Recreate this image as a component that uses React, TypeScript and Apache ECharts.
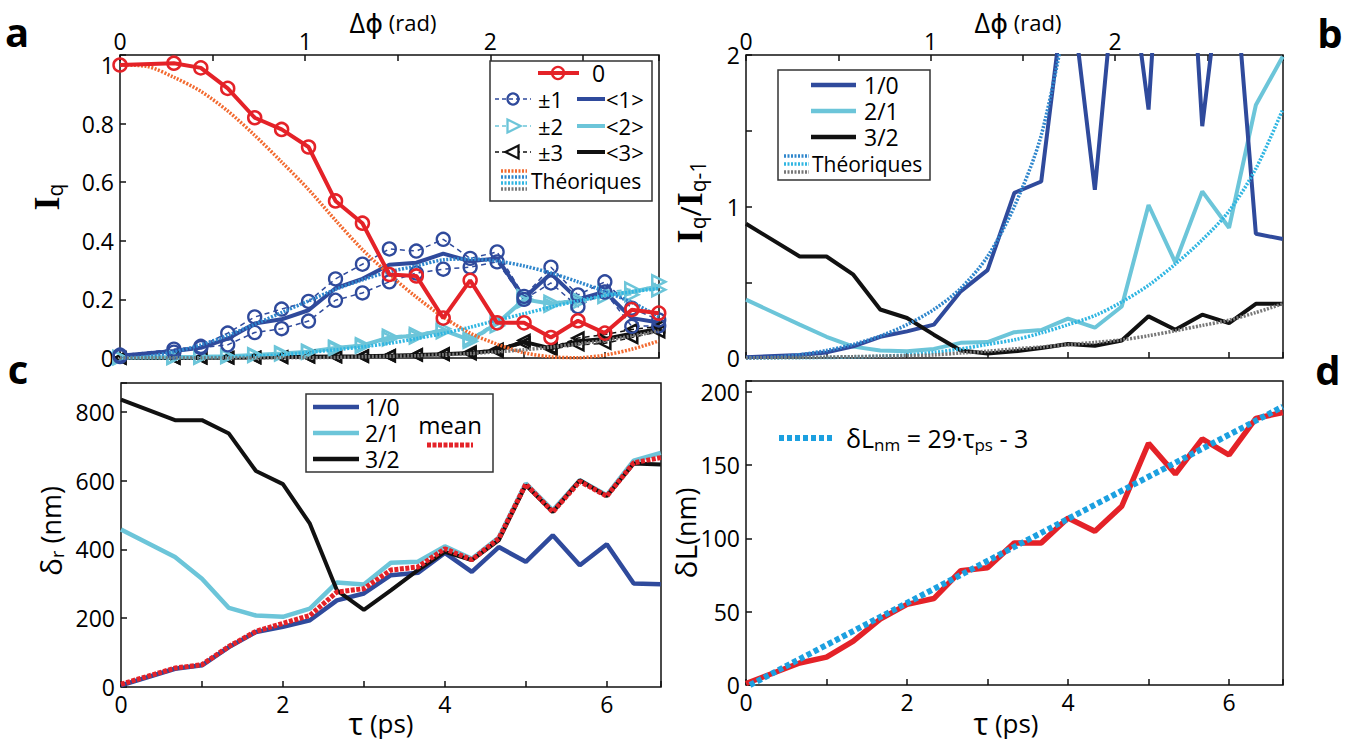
import React, { useEffect, useRef } from 'react';
import * as echarts from 'echarts';

// ---------- sampling (τ in ps) ----------
const tauPs = [0, 0.667, 1, 1.333, 1.667, 2, 2.333, 2.667, 3, 3.333, 3.667, 4, 4.333, 4.667, 5, 5.333, 5.667, 6, 6.333, 6.667];
const tauTheory = [0, 0.333, 0.667, 1, 1.333, 1.667, 2, 2.333, 2.667, 3, 3.333, 3.667, 4, 4.333, 4.667, 5, 5.333, 5.667, 6, 6.333, 6.667];

// ---------- panel a : I_q ----------
const i0 = [1.0, 1.006, 0.99, 0.92, 0.82, 0.78, 0.72, 0.536, 0.46, 0.285, 0.28, 0.136, 0.265, 0.12, 0.12, 0.07, 0.127, 0.085, 0.165, 0.153];
const iPlus1 = [0.01, 0.03, 0.04, 0.085, 0.14, 0.167, 0.193, 0.27, 0.32, 0.372, 0.365, 0.405, 0.34, 0.362, 0.21, 0.31, 0.215, 0.26, 0.17, 0.13];
const iMinus1 = [0.005, 0.02, 0.035, 0.045, 0.087, 0.1, 0.126, 0.197, 0.222, 0.26, 0.29, 0.303, 0.31, 0.328, 0.2, 0.256, 0.175, 0.225, 0.108, 0.11];
const iAvg1 = [0.008, 0.024, 0.035, 0.066, 0.118, 0.132, 0.163, 0.238, 0.27, 0.318, 0.325, 0.356, 0.33, 0.34, 0.205, 0.288, 0.2, 0.226, 0.136, 0.121];
const iPlus2 = [0.002, 0.003, 0.004, 0.006, 0.011, 0.017, 0.023, 0.037, 0.045, 0.074, 0.08, 0.1, 0.057, 0.11, 0.21, 0.18, 0.19, 0.21, 0.216, 0.26];
const iMinus2 = [0.001, 0.002, 0.003, 0.005, 0.009, 0.014, 0.02, 0.032, 0.04, 0.065, 0.072, 0.09, 0.065, 0.125, 0.195, 0.19, 0.2, 0.225, 0.235, 0.233];
const iAvg2 = [0.002, 0.003, 0.004, 0.006, 0.01, 0.015, 0.021, 0.034, 0.043, 0.07, 0.076, 0.095, 0.061, 0.118, 0.2, 0.185, 0.195, 0.215, 0.225, 0.245];
const iPlus3 = [0, 0, 0.001, 0.001, 0.002, 0.003, 0.004, 0.005, 0.006, 0.008, 0.01, 0.012, 0.015, 0.023, 0.05, 0.035, 0.068, 0.08, 0.097, 0.108];
const iMinus3 = [0, 0, 0.001, 0.001, 0.002, 0.003, 0.004, 0.005, 0.007, 0.008, 0.011, 0.014, 0.02, 0.03, 0.06, 0.03, 0.045, 0.05, 0.07, 0.09];
const iAvg3 = [0, 0, 0.001, 0.001, 0.002, 0.003, 0.004, 0.005, 0.006, 0.008, 0.01, 0.013, 0.017, 0.026, 0.055, 0.033, 0.057, 0.065, 0.083, 0.099];
const th0 = [1.0, 0.995, 0.958, 0.91, 0.843, 0.76, 0.669, 0.575, 0.47, 0.37, 0.285, 0.208, 0.14, 0.085, 0.047, 0.018, 0.004, 0.001, 0.01, 0.03, 0.058];
const th1 = [0, 0.005, 0.021, 0.045, 0.077, 0.115, 0.155, 0.195, 0.234, 0.267, 0.294, 0.314, 0.335, 0.338, 0.331, 0.314, 0.29, 0.26, 0.227, 0.19, 0.141];
const th2 = [0, 0, 0.0003, 0.001, 0.003, 0.006, 0.011, 0.019, 0.028, 0.038, 0.05, 0.066, 0.084, 0.105, 0.129, 0.151, 0.174, 0.195, 0.213, 0.226, 0.237];
const th3 = [0, 0, 0, 0, 0, 0, 0.001, 0.001, 0.002, 0.004, 0.006, 0.008, 0.011, 0.015, 0.021, 0.028, 0.037, 0.048, 0.06, 0.075, 0.092];

// ---------- panel b : I_q / I_q-1 ----------
const r10 = [0.005, 0.02, 0.037, 0.077, 0.14, 0.176, 0.22, 0.44, 0.58, 1.09, 1.165, 2.6, 1.11, 3.0, 1.64, 4.4, 1.53, 3.0, 0.82, 0.785];
const r21 = [0.385, 0.22, 0.14, 0.075, 0.05, 0.045, 0.06, 0.1, 0.105, 0.17, 0.185, 0.26, 0.2, 0.34, 1.01, 0.63, 1.1, 0.86, 1.67, 1.99];
const r32 = [0.886, 0.67, 0.67, 0.55, 0.32, 0.264, 0.154, 0.05, 0.03, 0.044, 0.066, 0.092, 0.081, 0.116, 0.275, 0.187, 0.286, 0.23, 0.358, 0.358];
const thR10 = [0, 0.005, 0.022, 0.05, 0.09, 0.145, 0.22, 0.32, 0.46, 0.67, 1.0, 1.47, 2.3];
const thR21 = [0, 0.0005, 0.002, 0.003, 0.007, 0.012, 0.02, 0.037, 0.06, 0.09, 0.12, 0.165, 0.22, 0.28, 0.37, 0.48, 0.62, 0.78, 0.97, 1.25, 1.64];
const thR32 = [0, 0.002, 0.004, 0.006, 0.009, 0.012, 0.015, 0.02, 0.033, 0.045, 0.06, 0.073, 0.088, 0.103, 0.12, 0.147, 0.18, 0.215, 0.25, 0.3, 0.358];

// ---------- panel c : δr (nm) ----------
const c10 = [5, 53, 63, 116, 160, 175, 194, 252, 272, 325, 332, 390, 335, 407, 364, 441, 354, 415, 301, 299];
const c21 = [458, 378, 315, 230, 208, 204, 228, 304, 298, 361, 364, 409, 373, 435, 592, 514, 601, 558, 658, 681];
const c32 = [836, 776, 776, 737, 628, 590, 475, 281, 224, 281, 340, 393, 369, 427, 587, 509, 601, 555, 650, 647];
const cMean = [8, 55, 65, 118, 162, 185, 208, 276, 286, 340, 349, 402, 370, 432, 590, 509, 598, 555, 652, 667];

// ---------- panel d : δL (nm) ----------
const dL = [1, 15, 19, 30, 45, 55, 59, 78, 80, 97, 97, 114, 105, 122, 165, 144, 168, 157, 182, 186];
const fitTau = [0.05, 6.667];
const fitDL = [0, 190];

// ---------- tick labels ----------
const yTicksA = [0, 0.2, 0.4, 0.6, 0.8, 1];
const yTicksB = [0, 1, 2];
const yTicksC = [0, 200, 400, 600, 800];
const yTicksD = [0, 50, 100, 150, 200];
const tauTickLabels = [0, 2, 4, 6];
const phiTickLabels = [0, 1, 2];

const FONT = '"Open Sans", "DejaVu Sans", sans-serif';
const RED = '#e42228';
const DBLUE = '#2f4a9c';
const LBLUE = '#6cc5d9';
const BLACK = '#111';
const TH_ORANGE = '#f26a30';
const TH_BLUE = '#2f86cc';
const TH_LBLUE = '#30b6e2';
const TH_GRAY = '#777';
const FIT_BLUE = '#1ca0e0';

const pairs = (xs: number[], ys: number[]) => ys.map((y, i) => [xs[i], y]);
const labelFrom = (ticks: number[]) => (v: number) => {
  const t = ticks.find((k) => Math.abs(k - v) < 1e-6);
  return t === undefined ? '' : String(t);
};

const tickStyle = { inside: true, length: 6, lineStyle: { color: BLACK, width: 1.5 } };
const labelStyle = { fontSize: 23, fontFamily: FONT, color: '#000' };

const tauAxis = (gridIndex: number, show: boolean) => ({
  type: 'value', gridIndex, position: 'bottom', min: 0, max: 6.67, interval: 1,
  axisLine: { show: false }, splitLine: { show: false }, axisTick: tickStyle,
  axisLabel: { show, ...labelStyle, margin: 5, formatter: labelFrom(tauTickLabels) },
});
const phiAxis = (gridIndex: number) => ({
  type: 'value', gridIndex, position: 'top', min: 0, max: 2.91, interval: 0.5,
  axisLine: { show: false }, splitLine: { show: false }, axisTick: tickStyle,
  axisLabel: { ...labelStyle, margin: 3, formatter: labelFrom(phiTickLabels) },
});
const valAxis = (gridIndex: number, max: number, interval: number, ticks: number[]) => ({
  type: 'value', gridIndex, min: 0, max, interval,
  axisLine: { show: false }, splitLine: { show: false }, axisTick: tickStyle,
  axisLabel: { ...labelStyle, margin: 6, formatter: labelFrom(ticks) },
});

const lineSeries = (x: number, y: number, data: number[][], color: string, width: number, extra: any = {}) => ({
  type: 'line', xAxisIndex: x, yAxisIndex: y, data, silent: true, symbol: 'none',
  lineStyle: { color, width, ...(extra.lineType ? { type: extra.lineType } : {}) },
  itemStyle: { color: 'transparent', borderColor: color, borderWidth: extra.borderWidth ?? 2 },
  z: extra.z ?? 2, smooth: extra.smooth ?? false,
  ...(extra.symbol ? { symbol: extra.symbol, symbolSize: extra.symbolSize ?? 12, symbolRotate: extra.rotate ?? 0, showAllSymbol: true } : {}),
});
const DOT: number[] = [2, 1.5];

const series: any[] = [
  // panel a theory
  lineSeries(0, 0, pairs(tauTheory, th0), TH_ORANGE, 3.5, { lineType: DOT, smooth: 0.3, z: 4 }),
  lineSeries(0, 0, pairs(tauTheory, th1), TH_BLUE, 3.5, { lineType: DOT, smooth: 0.3, z: 4 }),
  lineSeries(0, 0, pairs(tauTheory, th2), TH_LBLUE, 3.5, { lineType: DOT, smooth: 0.3, z: 4 }),
  lineSeries(0, 0, pairs(tauTheory, th3), TH_GRAY, 3.5, { lineType: DOT, smooth: 0.3, z: 4 }),
  // panel a data
  lineSeries(0, 0, pairs(tauPs, iPlus3), BLACK, 1.5, { lineType: [5, 4], symbol: 'triangle', symbolSize: 11, rotate: 90, borderWidth: 2.5, z: 3 }),
  lineSeries(0, 0, pairs(tauPs, iMinus3), BLACK, 1.5, { lineType: [5, 4], symbol: 'triangle', symbolSize: 11, rotate: 90, borderWidth: 2.5, z: 3 }),
  lineSeries(0, 0, pairs(tauPs, iAvg3), BLACK, 4, { z: 3 }),
  lineSeries(0, 0, pairs(tauPs, iPlus2), LBLUE, 1.5, { lineType: [5, 4], symbol: 'triangle', symbolSize: 13, rotate: -90, borderWidth: 2.5, z: 3 }),
  lineSeries(0, 0, pairs(tauPs, iMinus2), LBLUE, 1.5, { lineType: [5, 4], symbol: 'triangle', symbolSize: 13, rotate: -90, borderWidth: 2.5, z: 3 }),
  lineSeries(0, 0, pairs(tauPs, iAvg2), LBLUE, 4, { z: 3 }),
  lineSeries(0, 0, pairs(tauPs, iPlus1), DBLUE, 1.5, { lineType: [5, 4], symbol: 'circle', symbolSize: 13, borderWidth: 2.3, z: 3 }),
  lineSeries(0, 0, pairs(tauPs, iMinus1), DBLUE, 1.5, { lineType: [5, 4], symbol: 'circle', symbolSize: 13, borderWidth: 2.3, z: 3 }),
  lineSeries(0, 0, pairs(tauPs, iAvg1), DBLUE, 4, { z: 3 }),
  lineSeries(0, 0, pairs(tauPs, i0), RED, 4, { symbol: 'circle', symbolSize: 13, borderWidth: 2.5, z: 5 }),
  // panel b
  lineSeries(2, 1, pairs(tauPs, r21), LBLUE, 4, { z: 3 }),
  lineSeries(2, 1, pairs(tauPs, r10), DBLUE, 4, { z: 3 }),
  lineSeries(2, 1, pairs(tauPs, r32), BLACK, 4, { z: 3 }),
  lineSeries(2, 1, pairs(tauTheory.slice(0, thR10.length), thR10), TH_BLUE, 3.5, { lineType: DOT, smooth: 0.3, z: 4 }),
  lineSeries(2, 1, pairs(tauTheory, thR21), TH_LBLUE, 3.5, { lineType: DOT, smooth: 0.3, z: 4 }),
  lineSeries(2, 1, pairs(tauTheory, thR32), TH_GRAY, 3.5, { lineType: DOT, smooth: 0.3, z: 4 }),
  // panel c
  lineSeries(4, 2, pairs(tauPs, c21), LBLUE, 4.5, { z: 3 }),
  lineSeries(4, 2, pairs(tauPs, c10), DBLUE, 4.5, { z: 3 }),
  lineSeries(4, 2, pairs(tauPs, c32), BLACK, 4, { z: 3 }),
  lineSeries(4, 2, pairs(tauPs, cMean), RED, 5, { lineType: [4, 1.5], z: 5 }),
  // panel d
  lineSeries(5, 3, pairs(tauPs, dL), RED, 5.5, { z: 3 }),
  lineSeries(5, 3, pairs(fitTau, fitDL), FIT_BLUE, 6, { lineType: [5, 3], z: 4 }),
];

// ---------- legend / annotation graphics ----------
const G: any[] = [];
const txt = (x: number, y: number, text: string, size: number, extra: any = {}) => ({
  type: 'text', x, y, z: 101,
  style: { text, fontSize: size, lineHeight: size, fontFamily: FONT, fill: '#000', align: 'left', verticalAlign: 'middle', textAlign: 'left', textVerticalAlign: 'middle', ...extra },
});
const ln = (x1: number, y1: number, x2: number, y2: number, color: string, w: number, dash?: number[]) => ({
  type: 'line', z: 101, shape: { x1, y1, x2, y2 }, style: { stroke: color, lineWidth: w, lineDash: dash },
});
const box = (x: number, y: number, w: number, h: number) => ({
  type: 'rect', z: 100, shape: { x, y, width: w, height: h }, style: { fill: '#fff', stroke: '#333', lineWidth: 1.5 },
});
const circ = (cx: number, cy: number, r: number, color: string) => ({
  type: 'circle', z: 102, shape: { cx, cy, r }, style: { fill: 'none', stroke: color, lineWidth: 2.3 },
});
const tri = (cx: number, cy: number, s: number, dir: number, color: string) => ({
  type: 'polygon', z: 102,
  shape: { points: [[cx - dir * s * 0.55, cy - s * 0.65], [cx - dir * s * 0.55, cy + s * 0.65], [cx + dir * s * 0.75, cy]] },
  style: { fill: '#fff', stroke: color, lineWidth: 2.3 },
});

// legend a
G.push(box(490, 61, 162, 140));
G.push(ln(538, 73, 579, 73, RED, 4), circ(558, 73, 6, RED), txt(592, 73, '0', 23));
G.push(ln(495, 99, 531, 99, DBLUE, 1.5, [4, 3]), circ(513, 99, 5.5, DBLUE), txt(538, 99, '±1', 22), ln(577, 99, 605, 99, DBLUE, 4), txt(606, 99, '<1>', 22));
G.push(ln(495, 126, 531, 126, LBLUE, 1.5, [4, 3]), tri(513, 126, 10, 1, LBLUE), txt(538, 126, '±2', 22), ln(577, 126, 605, 126, LBLUE, 4), txt(606, 126, '<2>', 22));
G.push(ln(495, 152, 531, 152, BLACK, 1.5, [4, 3]), tri(513, 152, 10, -1, BLACK), txt(538, 152, '±3', 22), ln(577, 152, 605, 152, BLACK, 4), txt(606, 152, '<3>', 22));
G.push(ln(501, 171, 527, 171, TH_ORANGE, 3.5, DOT), ln(501, 177, 527, 177, TH_BLUE, 3.5, DOT), ln(501, 183, 527, 183, TH_LBLUE, 3.5, DOT), ln(501, 189, 527, 189, TH_GRAY, 3.5, DOT));
G.push(txt(531, 181, 'Théoriques', 21));

// legend b
G.push(box(778, 70, 152, 110));
G.push(ln(811, 85, 856, 85, DBLUE, 4.5), txt(864, 85, '1/0', 23));
G.push(ln(811, 111, 856, 111, LBLUE, 4.5), txt(864, 111, '2/1', 23));
G.push(ln(811, 137, 856, 137, BLACK, 4.5), txt(864, 137, '3/2', 23));
G.push(ln(784, 156, 809, 156, TH_BLUE, 3.5, DOT), ln(784, 164, 809, 164, TH_LBLUE, 3.5, DOT), ln(784, 172, 809, 172, TH_GRAY, 3.5, DOT));
G.push(txt(812, 164, 'Théoriques', 21));

// legend c
G.push(box(306, 394, 187, 78));
G.push(ln(313, 407, 359, 407, DBLUE, 4.5), txt(365, 407, '1/0', 23));
G.push(ln(313, 433, 359, 433, LBLUE, 4.5), txt(365, 433, '2/1', 23));
G.push(ln(313, 459, 359, 459, BLACK, 4.5), txt(365, 459, '3/2', 23));
G.push(txt(450, 424, 'mean', 24, { align: 'center', textAlign: 'center' }));
G.push(ln(427, 445, 473, 445, RED, 5, [4, 1.5]));

// legend d
G.push(ln(779, 438, 835, 438, FIT_BLUE, 6, [5, 3]));
G.push({
  type: 'text', x: 846, y: 438, z: 101,
  style: {
    text: '{m|δL}{s|nm}{m| = 29·τ}{s|ps}{m| - 3}', align: 'left', verticalAlign: 'middle', textAlign: 'left', textVerticalAlign: 'middle',
    rich: {
      m: { fontSize: 25, fontFamily: FONT, fill: '#000', lineHeight: 30 },
      s: { fontSize: 17, fontFamily: FONT, fill: '#000', lineHeight: 18, verticalAlign: 'bottom' },
    },
  },
});

// axis titles
const richTitle = (x: number, y: number, text: string, rich: any, rotation = 0) => ({
  type: 'text', x, y, z: 101, rotation,
  style: { text, rich, align: 'center', verticalAlign: 'middle', textAlign: 'center', textVerticalAlign: 'middle' },
});
const phiRich = {
  g: { fontSize: 27, fontFamily: FONT, fill: '#000', lineHeight: 30 },
  s: { fontSize: 22, fontFamily: FONT, fill: '#000', lineHeight: 30 },
};
G.push(richTitle(393, 22, '{g|Δϕ}{s| (rad)}', phiRich));
G.push(richTitle(1018, 22, '{g|Δϕ}{s| (rad)}', phiRich));
const tauRich = {
  g: { fontSize: 31, fontFamily: FONT, fill: '#000', lineHeight: 30 },
  s: { fontSize: 26, fontFamily: FONT, fill: '#000', lineHeight: 30 },
};
G.push(richTitle(381, 723, '{g|τ}{s| (ps)}', tauRich));
G.push(richTitle(1006, 723, '{g|τ}{s| (ps)}', tauRich));
const iRich = {
  I: { fontSize: 36, fontFamily: '"Liberation Serif", serif', fontWeight: 'bold', fill: '#000', lineHeight: 36 },
  q: { fontSize: 21, fontFamily: FONT, fill: '#000', lineHeight: 22, verticalAlign: 'bottom' },
  sl: { fontSize: 28, fontFamily: FONT, fill: '#000', lineHeight: 36 },
};
G.push(richTitle(47, 197, '{I|I}{q|q}', iRich, Math.PI / 2));
G.push(richTitle(690, 202, '{I|I}{q|q}{sl|/}{I|I}{q|q-1}', iRich, Math.PI / 2));
const dRich = {
  g: { fontSize: 30, fontFamily: FONT, fill: '#000', lineHeight: 32 },
  sub: { fontSize: 18, fontFamily: FONT, fill: '#000', lineHeight: 18, verticalAlign: 'bottom' },
  s: { fontSize: 27, fontFamily: FONT, fill: '#000', lineHeight: 32 },
};
G.push(richTitle(50, 531, '{g|δ}{sub|r}{s| (nm)}', dRich, Math.PI / 2));
G.push(richTitle(685, 533, '{g|δL}{s|(nm)}', dRich, Math.PI / 2));

// panel letters
const letter = (x: number, y: number, t: string) => ({
  type: 'text', x, y, z: 101,
  style: { text: t, fontSize: 40, lineHeight: 40, fontWeight: 'bold', fontFamily: FONT, fill: '#000', align: 'center', verticalAlign: 'middle', textAlign: 'center', textVerticalAlign: 'middle' },
});
G.push(letter(17, 31, 'a'), letter(1330, 32, 'b'), letter(18, 368, 'c'), letter(1328, 369, 'd'));

const gridBase = { show: true, borderColor: BLACK, borderWidth: 1.5, backgroundColor: 'transparent', containLabel: false };

const option: any = {
  animation: false,
  backgroundColor: '#fff',
  grid: [
    { ...gridBase, left: 120, top: 55, width: 539, height: 303 },
    { ...gridBase, left: 746, top: 55, width: 537, height: 303 },
    { ...gridBase, left: 121, top: 383, width: 540, height: 304 },
    { ...gridBase, left: 746, top: 381, width: 537, height: 304 },
  ],
  xAxis: [tauAxis(0, false), phiAxis(0), tauAxis(1, false), phiAxis(1), tauAxis(2, true), tauAxis(3, true)],
  yAxis: [
    valAxis(0, 1.034, 0.2, yTicksA),
    valAxis(1, 2, 0.5, yTicksB),
    valAxis(2, 884, 200, yTicksC),
    valAxis(3, 207.5, 50, yTicksD),
  ],
  series,
  graphic: { elements: G },
};

export default function App() {
  const ref = useRef<HTMLDivElement>(null);
  useEffect(() => {
    const chart = echarts.init(ref.current as HTMLDivElement, null, { renderer: 'svg' });
    chart.setOption(option);
    return () => chart.dispose();
  }, []);
  return <div ref={ref} style={{ position: 'fixed', left: 0, top: 0, width: 1352, height: 744, background: '#fff' }} />;
}
